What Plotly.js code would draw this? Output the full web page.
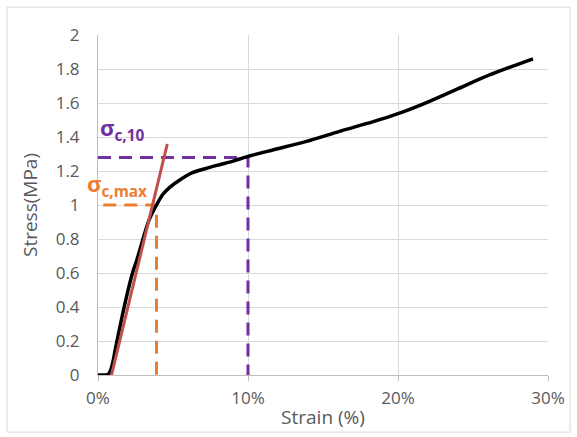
<!DOCTYPE html>
<html>
<head>
<meta charset="utf-8">
<script src="https://cdn.plot.ly/plotly-3.0.1.min.js"></script>
<style>
html,body{margin:0;padding:0;background:#fff;}
#chart{width:577px;height:437px;}
</style>
</head>
<body>
<div id="chart"></div>
<script>
// Stress-strain curve (strain in %, stress in MPa)
const strain = [0, 0.5, 0.7, 0.85, 1.0, 1.15, 1.5, 1.9, 2.3, 2.6, 3.0, 3.35, 3.6, 3.9, 4.3, 4.8, 5.5, 6.3, 7.2, 8.1, 9.0, 10.0, 11.7, 13.9, 16.1, 18.35, 20.0, 21.7, 23.9, 26.1, 29.0];
const stress = [0, 0, 0.005, 0.03, 0.08, 0.15, 0.30, 0.46, 0.6, 0.68, 0.8, 0.9, 0.95, 1.0, 1.06, 1.105, 1.15, 1.19, 1.215, 1.237, 1.258, 1.286, 1.325, 1.374, 1.433, 1.49, 1.537, 1.595, 1.68, 1.765, 1.86];
// Linear fit (red)
const fitStrain = [0.9, 4.62];
const fitStress = [0, 1.36];
// sigma_c,max marker (orange)
const maxStrain = [0.35, 3.9, 3.9];
const maxStress = [1.0, 1.0, 0];
// sigma_c,10 marker (purple)
const s10Strain = [0, 10, 10];
const s10Stress = [1.28, 1.28, 0];
// Axis ticks
const xTicks = [0, 10, 20, 30];
const yTicks = [0, 0.2, 0.4, 0.6, 0.8, 1, 1.2, 1.4, 1.6, 1.8, 2];

const FONT = 'Open Sans, Noto Sans, sans-serif';
const GREY = '#595959';

const traces = [
  {x: s10Strain, y: s10Stress, mode: 'lines', line: {color: '#7030A0', width: 3, dash: '13px,8px'}, hoverinfo: 'skip'},
  {x: maxStrain, y: maxStress, mode: 'lines', line: {color: '#ED7D31', width: 3, dash: '13px,8px'}, hoverinfo: 'skip'},
  {x: strain, y: stress, mode: 'lines', line: {color: '#000000', width: 3.5, shape: 'spline', smoothing: 0.8}},
  {x: fitStrain, y: fitStress, mode: 'lines', line: {color: '#C0504D', width: 3}}
];

const layout = {
  width: 577, height: 437,
  margin: {l: 98, r: 29, t: 35, b: 62},
  paper_bgcolor: '#ffffff', plot_bgcolor: '#ffffff',
  showlegend: false,
  font: {family: FONT, color: GREY, size: 17},
  xaxis: {
    range: [0, 30], tickvals: xTicks, ticktext: xTicks.map(v => v + '%'),
    showgrid: true, gridcolor: '#d9d9d9', gridwidth: 1,
    zeroline: false, showline: true, linecolor: '#bfbfbf', linewidth: 1,
    ticks: 'outside', ticklen: 5, tickcolor: '#bfbfbf', ticklabelstandoff: 3,
    tickfont: {family: FONT, size: 17, color: GREY},
    title: {text: 'Strain (%)', font: {family: FONT, size: 19, color: GREY}, standoff: 2}
  },
  yaxis: {
    range: [0, 2], tickvals: yTicks,
    showgrid: true, gridcolor: '#d9d9d9', gridwidth: 1,
    zeroline: false, showline: true, linecolor: '#bfbfbf', linewidth: 1,
    ticks: '', ticklabelstandoff: 14,
    tickfont: {family: FONT, size: 17, color: GREY},
    title: {text: 'Stress(MPa)', font: {family: FONT, size: 19, color: GREY}, standoff: 13}
  },
  annotations: [
    {x: 0, y: 1.45, xref: 'paper', yref: 'y', xanchor: 'left', yanchor: 'middle', showarrow: false,
     text: '<b>σ<sub>c,10</sub></b>', font: {family: FONT, size: 22, color: '#7030A0'}},
    {x: -0.03, y: 1.12, xref: 'paper', yref: 'y', xanchor: 'left', yanchor: 'middle', showarrow: false,
     text: '<b>σ<sub>c,max</sub></b>', font: {family: FONT, size: 22, color: '#ED7D31'}}
  ],
  shapes: [
    {type: 'rect', xref: 'paper', yref: 'paper', x0: -0.202, x1: 1.049, y0: -0.168, y1: 1.082,
     line: {color: '#d9d9d9', width: 1}, fillcolor: 'rgba(0,0,0,0)', layer: 'below'}
  ]
};

Plotly.newPlot('chart', traces, layout, {displayModeBar: false, staticPlot: true});
</script>
</body>
</html>
